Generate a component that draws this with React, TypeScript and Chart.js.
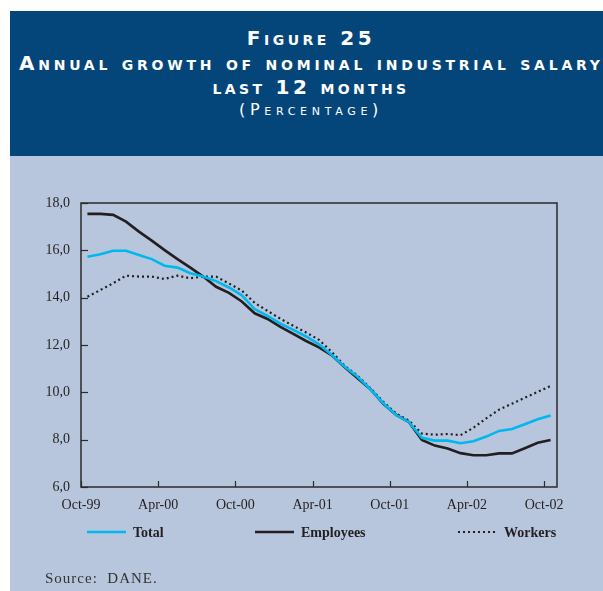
import React, { useEffect, useRef } from "react";
import { Chart, registerables } from "chart.js";

Chart.register(...registerables);

// ---- data ----
const xTickLabels = ["Oct-99", "Apr-00", "Oct-00", "Apr-01", "Oct-01", "Apr-02", "Oct-02"];
const monthsPerTick = 6;
const monthSlots = 37; // Oct-99 .. Oct-02, monthly
const yTicks = [6, 8, 10, 12, 14, 16, 18];
const seriesNames = ["Total", "Employees", "Workers"];

const total = [
  15.73, 15.83, 15.98, 15.98, 15.8, 15.63, 15.35, 15.27, 15.03, 14.89, 14.7, 14.43,
  14.1, 13.52, 13.23, 12.9, 12.64, 12.36, 12.03, 11.58, 11.08, 10.66, 10.13, 9.54,
  9.04, 8.74, 8.08, 7.96, 7.96, 7.85, 7.93, 8.13, 8.37, 8.45, 8.65, 8.86, 9.02,
];
const employees = [
  17.54, 17.54, 17.5, 17.21, 16.79, 16.41, 16.01, 15.63, 15.27, 14.89, 14.46, 14.2,
  13.84, 13.34, 13.1, 12.77, 12.47, 12.17, 11.9, 11.56, 11.06, 10.59, 10.13, 9.51,
  9.05, 8.74, 7.99, 7.75, 7.63, 7.43, 7.34, 7.34, 7.42, 7.42, 7.64, 7.87, 7.99,
];
const workers = [
  14.04, 14.32, 14.61, 14.93, 14.89, 14.89, 14.79, 14.93, 14.82, 14.89, 14.89, 14.6,
  14.3, 13.78, 13.44, 13.11, 12.81, 12.53, 12.22, 11.7, 11.12, 10.7, 10.17, 9.6,
  9.1, 8.8, 8.26, 8.21, 8.24, 8.19, 8.5, 8.9, 9.27, 9.52, 9.77, 10.02, 10.27,
];

const INK = "#231f20";
const CYAN = "#00b7ee";
const SERIF = "'Liberation Serif', 'Times New Roman', serif";

const toPoints = (arr: number[]) => arr.map((v, i) => ({ x: i + 0.5, y: v }));

const framePlugin = {
  id: "frameAndLegend",
  afterDraw(chart: any) {
    const { ctx, chartArea } = chart;
    const { left, right, top, bottom } = chartArea;
    ctx.save();
    // box
    ctx.strokeStyle = "#2b2b2b";
    ctx.lineWidth = 1.5;
    ctx.setLineDash([]);
    ctx.strokeRect(left, top, right - left, bottom - top);
    // inner ticks
    ctx.lineWidth = 1.2;
    const xs = chart.scales.x;
    xs.ticks.forEach((t: any) => {
      const px = Math.round(xs.getPixelForValue(t.value)) + 0.5;
      ctx.beginPath();
      ctx.moveTo(px, bottom);
      ctx.lineTo(px, bottom - 6);
      ctx.stroke();
    });
    const ys = chart.scales.y;
    ys.ticks.forEach((t: any) => {
      const py = Math.round(ys.getPixelForValue(t.value)) + 0.5;
      ctx.beginPath();
      ctx.moveTo(left, py);
      ctx.lineTo(left + 7, py);
      ctx.stroke();
    });
    // legend
    const offsets = [6, 174, 377];
    const ly = bottom + 45;
    ctx.font = `bold 14px ${SERIF}`;
    ctx.textBaseline = "middle";
    ctx.fillStyle = INK;
    chart.data.datasets.forEach((ds: any, i: number) => {
      const x0 = left + offsets[i];
      ctx.strokeStyle = ds.borderColor;
      ctx.lineWidth = ds.borderWidth;
      ctx.setLineDash(ds.borderDash || []);
      ctx.beginPath();
      ctx.moveTo(x0, ly);
      ctx.lineTo(x0 + 39, ly);
      ctx.stroke();
      ctx.fillText(ds.label, x0 + 46, ly + 1);
    });
    ctx.restore();
  },
};

function ChartCanvas() {
  const ref = useRef<HTMLCanvasElement | null>(null);
  useEffect(() => {
    if (!ref.current) return;
    const chart = new Chart(ref.current, {
      type: "line",
      data: {
        datasets: [
          {
            label: seriesNames[0],
            data: toPoints(total),
            borderColor: CYAN,
            borderWidth: 2.6,
            order: 0,
          },
          {
            label: seriesNames[1],
            data: toPoints(employees),
            borderColor: INK,
            borderWidth: 2.6,
            order: 2,
          },
          {
            label: seriesNames[2],
            data: toPoints(workers),
            borderColor: INK,
            borderWidth: 2.2,
            borderDash: [2, 3],
            order: 1,
          },
        ],
      },
      options: {
        animation: false,
        responsive: false,
        maintainAspectRatio: false,
        layout: { padding: { top: 47, right: 46, bottom: 74, left: 0 } },
        elements: { point: { radius: 0 }, line: { tension: 0 } },
        plugins: {
          legend: { display: false },
          tooltip: { enabled: false },
          title: { display: false },
        },
        scales: {
          x: {
            type: "linear",
            min: 0,
            max: monthSlots,
            afterBuildTicks: (s: any) => {
              s.ticks = xTickLabels.map((_, i) => ({ value: i * monthsPerTick }));
            },
            afterFit: (s: any) => {
              s.height = 30;
            },
            grid: { display: false, drawTicks: false },
            border: { display: false },
            ticks: {
              padding: 10,
              autoSkip: false,
              maxRotation: 0,
              color: INK,
              font: { family: SERIF, size: 14 },
              callback: (v: any) => xTickLabels[Math.round(Number(v) / monthsPerTick)] ?? "",
            },
          },
          y: {
            min: 6,
            max: 18,
            afterBuildTicks: (s: any) => {
              s.ticks = yTicks.map((v) => ({ value: v }));
            },
            afterFit: (s: any) => {
              s.width = 71;
            },
            grid: { display: false, drawTicks: false },
            border: { display: false },
            ticks: {
              padding: 11,
              color: INK,
              font: { family: SERIF, size: 14 },
              callback: (v: any) => Number(v).toFixed(1).replace(".", ","),
            },
          },
        },
      },
      plugins: [framePlugin],
    } as any);
    return () => chart.destroy();
  }, []);
  return (
    <canvas
      ref={ref}
      width={593}
      height={435}
      style={{ position: "absolute", left: 10, top: 156, width: 593, height: 435 }}
    />
  );
}

const titleLine: React.CSSProperties = {
  position: "absolute",
  left: 0,
  width: "100%",
  textAlign: "center",
  color: "#ffffff",
  fontFamily: "'DejaVu Sans', sans-serif",
  fontVariant: "small-caps",
  whiteSpace: "nowrap",
  lineHeight: "20px",
};

export default function App() {
  return (
    <div
      style={{
        position: "absolute",
        left: 0,
        top: 0,
        width: 603,
        height: 591,
        background: "#ffffff",
        overflow: "hidden",
      }}
    >
      <div
        style={{
          position: "absolute",
          left: 10,
          top: 11,
          width: 593,
          height: 145,
          background: "#05467a",
        }}
      >
        <div style={{ position: "absolute", left: 9, width: 584, top: 0, height: 145 }}>
          <div style={{ ...titleLine, top: 17, fontSize: 20, fontWeight: "bold", letterSpacing: 3.5 }}>
            Figure 25
          </div>
          <div style={{ ...titleLine, top: 42, fontSize: 20, fontWeight: "bold", letterSpacing: 3.75 }}>
            Annual growth of nominal industrial salary
          </div>
          <div style={{ ...titleLine, top: 66, fontSize: 20, fontWeight: "bold", letterSpacing: 3.35 }}>
            last 12 months
          </div>
          <div style={{ ...titleLine, top: 89, fontSize: 16, fontWeight: "normal", letterSpacing: 4.7 }}>
            (Percentage)
          </div>
        </div>
      </div>
      <div
        style={{
          position: "absolute",
          left: 10,
          top: 156,
          width: 593,
          height: 435,
          background: "#b7c6dc",
        }}
      />
      <ChartCanvas />
      <div
        style={{
          position: "absolute",
          left: 45,
          top: 569,
          fontFamily: SERIF,
          fontSize: 15,
          color: "#333333",
          letterSpacing: 1,
          whiteSpace: "nowrap",
          lineHeight: "18px",
        }}
      >
        Source:&nbsp; DANE.
      </div>
    </div>
  );
}
